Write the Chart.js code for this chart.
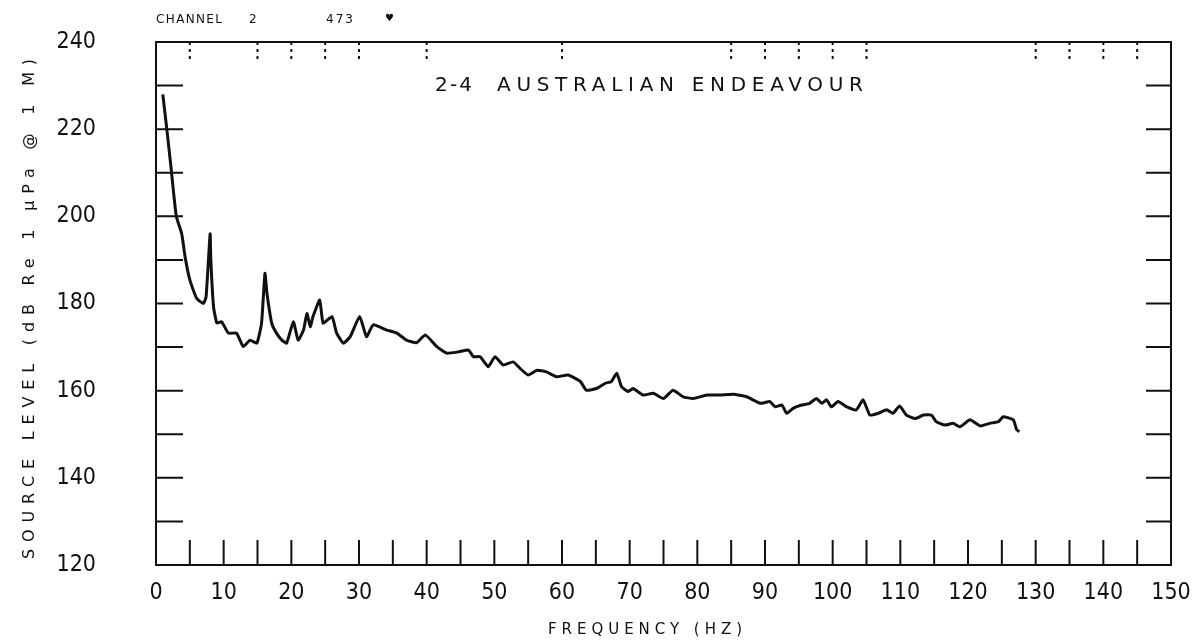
<!DOCTYPE html>
<html lang="en">
<head>
    <meta charset="UTF-8">
    <title>2-4 Australian Endeavour</title>
    <script src="https://cdn.jsdelivr.net/npm/chart.js@4.4.1/dist/chart.umd.min.js"></script>
    <style>
        body { margin: 0; background: #fff; }
        #wrap { width: 1203px; height: 644px; position: relative; }
    </style>
</head>
<body>
<div id="wrap">
    <canvas id="myChart"></canvas>
</div>
<script>
    // frequency (Hz) and source level (dB)
    var freq = [1.0, 1.6, 2.3, 3.0, 3.8, 4.3, 5.0, 6.0, 7.0, 7.4,
        8.0, 8.1, 8.5, 9.0, 9.7, 10.7, 11.9, 12.9, 13.9, 14.9,
        15.6, 16.1, 16.4, 17.1, 17.8, 18.6, 19.3, 20.3, 21.0, 21.8,
        22.3, 22.8, 23.2, 24.2, 24.7, 26.0, 26.7, 27.7, 28.7, 30.1,
        31.1, 32.1, 34.1, 35.6, 37.0, 38.5, 39.8, 41.5, 43.0, 44.7,
        46.2, 46.9, 47.9, 49.1, 50.1, 51.3, 52.8, 53.8, 55.0, 56.3,
        57.7, 59.2, 60.9, 62.7, 63.6, 65.1, 66.4, 67.3, 68.1, 68.8,
        69.8, 70.5, 72.0, 73.5, 75.0, 76.4, 77.9, 79.4, 81.4, 83.3,
        85.3, 87.3, 89.3, 90.7, 91.5, 92.5, 93.2, 94.2, 95.4, 96.6,
        97.6, 98.4, 99.1, 99.8, 100.8, 102.1, 103.5, 104.5, 105.5, 106.7,
        108.0, 108.9, 109.9, 110.9, 112.2, 113.4, 114.6, 115.3, 116.6, 117.8,
        118.8, 120.3, 121.8, 123.2, 124.5, 125.2, 126.7, 127.2, 127.6];
    var level = [228, 220, 210, 200, 196, 190.7, 185.4, 181.2, 180.0, 181.5,
        196, 190, 179.3, 175.5, 175.8, 173.2, 173.2, 170.1, 171.6, 170.9,
        175.5, 186.9, 182.3, 175.5, 173.2, 171.6, 170.9, 175.8, 171.6, 173.9,
        177.7, 174.7, 177.0, 180.8, 175.5, 177.0, 173.2, 170.9, 172.4, 177.0,
        172.4, 175.1, 173.9, 173.2, 171.6, 171.0, 172.8, 170.1, 168.6, 168.9,
        169.3, 167.8, 167.8, 165.5, 167.8, 165.9, 166.6, 165.1, 163.6, 164.7,
        164.3, 163.2, 163.6, 162.1, 160.1, 160.5, 161.7, 162.1, 164.0, 160.9,
        159.8, 160.5, 159.0, 159.4, 158.2, 160.1, 158.6, 158.2, 159.0, 159.0,
        159.2, 158.6, 157.1, 157.5, 156.3, 156.7, 154.8, 156.0, 156.7, 157.1,
        158.2, 157.1, 157.9, 156.3, 157.5, 156.3, 155.6, 157.9, 154.4, 154.8,
        155.6, 154.8, 156.5, 154.4, 153.6, 154.4, 154.4, 152.9, 152.1, 152.5,
        151.7, 153.3, 151.9, 152.5, 152.9, 154.0, 153.3, 151.0, 150.6];

    var xTicks = [0, 10, 20, 30, 40, 50, 60, 70, 80, 90, 100, 110, 120, 130, 140, 150];
    var yTicks = [120, 140, 160, 180, 200, 220, 240];
    var xMinor = 5;   // small marks on the frame
    var yMinor = 10;
    // the plotter only left some of the top marks
    var topMarks = [5, 15, 20, 25, 30, 40, 60, 85, 90, 95, 100, 105, 130, 135, 140, 145];

    var plotTitle = ['2-4', 'AUSTRALIAN ENDEAVOUR'];
    var header = ['CHANNEL', '2', '473', '\u2665'];
    var xTitle = 'FREQUENCY (HZ)';
    var yTitle = 'SOURCE LEVEL (dB Re 1 \u00b5Pa @ 1 M)';

    var points = [];
    for (var i = 0; i < freq.length; i++) {
        points.push({x: freq[i], y: level[i]});
    }

    var ink = '#111';
    var tickFont = "'Liberation Sans Narrow', 'DejaVu Sans Condensed', 'Liberation Sans', sans-serif";

    // draw text stretched to a given width (the plotter font is very wide)
    function spaced(ctx, txt, x, y, width) {
        ctx.letterSpacing = '0px';
        var w = ctx.measureText(txt).width;
        var ls = (width - w) / (txt.length - 1);
        ctx.letterSpacing = ls + 'px';
        ctx.fillText(txt, x, y);
        ctx.letterSpacing = '0px';
    }

    var frame = {
        id: 'frame',
        beforeDatasetsDraw: function (chart) {
            var ctx = chart.ctx, a = chart.chartArea;
            var xs = chart.scales.x, ys = chart.scales.y;
            ctx.save();
            ctx.strokeStyle = ink;
            ctx.lineWidth = 2;
            ctx.strokeRect(a.left, a.top, a.right - a.left, a.bottom - a.top);
            // left / right marks
            for (var v = ys.min + yMinor; v < ys.max; v += yMinor) {
                var py = ys.getPixelForValue(v);
                ctx.beginPath();
                ctx.moveTo(a.left, py); ctx.lineTo(a.left + 27, py);
                ctx.moveTo(a.right - 25, py); ctx.lineTo(a.right, py);
                ctx.stroke();
            }
            // bottom marks
            for (var f = xs.min + xMinor; f < xs.max; f += xMinor) {
                var px = xs.getPixelForValue(f);
                ctx.beginPath();
                ctx.moveTo(px, a.bottom); ctx.lineTo(px, a.bottom - 25);
                ctx.stroke();
            }
            // top marks, dotted
            ctx.setLineDash([3, 4]);
            topMarks.forEach(function (t) {
                var tx = xs.getPixelForValue(t);
                ctx.beginPath();
                ctx.moveTo(tx, a.top); ctx.lineTo(tx, a.top + 18);
                ctx.stroke();
            });
            ctx.restore();
        },
        afterDraw: function (chart) {
            var ctx = chart.ctx, a = chart.chartArea;
            ctx.save();
            ctx.fillStyle = ink;
            ctx.textBaseline = 'middle';
            ctx.textAlign = 'left';

            ctx.font = "12px 'DejaVu Sans'";
            spaced(ctx, header[0], a.left, 20, 66);
            ctx.fillText(header[1], a.left + 93, 20);
            spaced(ctx, header[2], a.left + 170, 20, 27);
            ctx.font = "10px 'DejaVu Sans'";
            ctx.fillText(header[3], a.left + 229, 18);

            ctx.font = "20px 'DejaVu Sans'";
            spaced(ctx, plotTitle[0], 435, 86, 37);
            spaced(ctx, plotTitle[1], 497, 86, 366);

            ctx.font = "15px 'DejaVu Sans'";
            spaced(ctx, xTitle, 548, 630, 194);

            ctx.translate(30, 559);
            ctx.rotate(-Math.PI / 2);
            ctx.font = "16px 'DejaVu Sans'";
            spaced(ctx, yTitle, 0, 0, 500);
            ctx.restore();
        }
    };

    var ctx = document.getElementById('myChart').getContext('2d');
    var myChart = new Chart(ctx, {
        type: 'line',
        data: {
            datasets: [{
                label: plotTitle.join(' '),
                data: points,
                borderColor: ink,
                backgroundColor: ink,
                borderWidth: 3,
                pointRadius: 0,
                tension: 0.15,
                fill: false
            }]
        },
        options: {
            responsive: true,
            maintainAspectRatio: false,
            devicePixelRatio: 1,
            animation: false,
            layout: { padding: { left: 0, right: 32, top: 42, bottom: 0 } },
            plugins: {
                legend: { display: false },
                tooltip: { enabled: false }
            },
            scales: {
                x: {
                    type: 'linear',
                    min: 0,
                    max: 150,
                    afterBuildTicks: function (s) { s.ticks = xTicks.map(function (v) { return {value: v}; }); },
                    afterFit: function (s) { s.height = 79; s.paddingLeft = 0; s.paddingRight = 0; },
                    grid: { display: false },
                    border: { display: false },
                    ticks: { color: ink, padding: 6, maxRotation: 0, font: { family: tickFont, size: 23 } }
                },
                y: {
                    min: 120,
                    max: 240,
                    afterBuildTicks: function (s) { s.ticks = yTicks.map(function (v) { return {value: v}; }); },
                    afterFit: function (s) { s.width = 156; s.paddingTop = 0; s.paddingBottom = 0; },
                    grid: { display: false },
                    border: { display: false },
                    ticks: { color: ink, padding: 52, font: { family: tickFont, size: 23 } }
                }
            }
        },
        plugins: [frame]
    });
</script>
</body>
</html>
